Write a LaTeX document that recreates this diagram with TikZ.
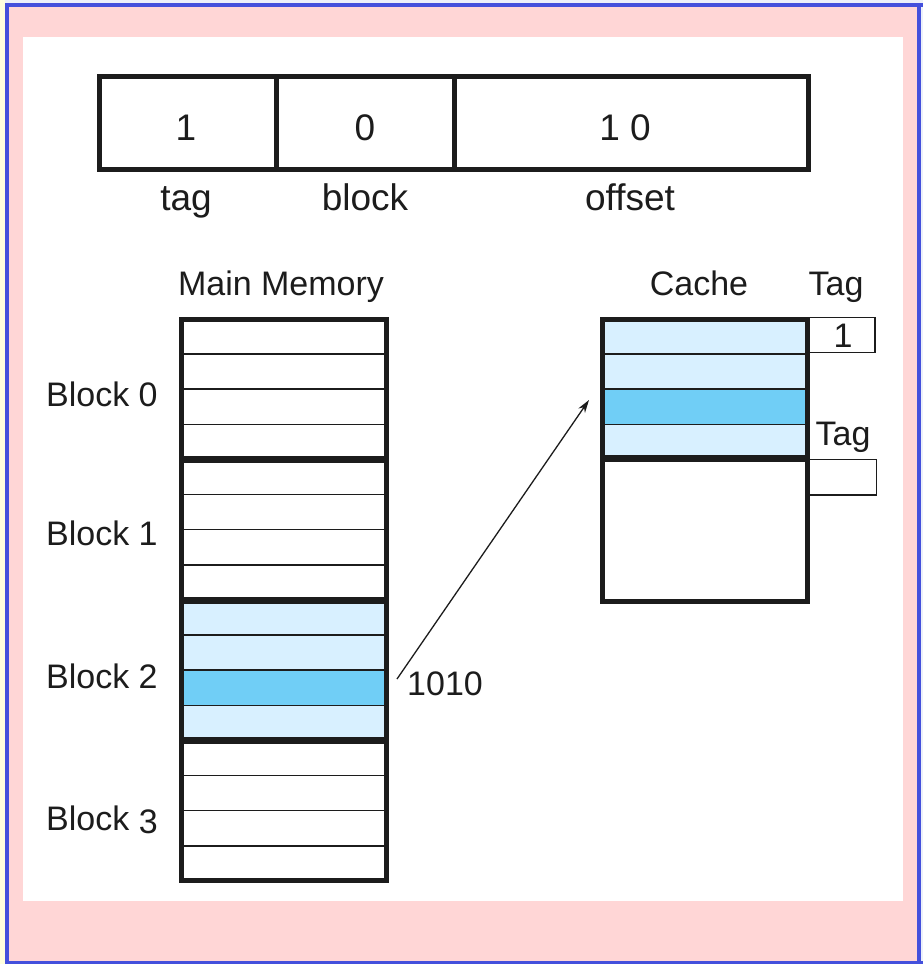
\documentclass[tikz,border=0pt]{standalone}
\usepackage{fontspec}
\setmainfont{Liberation Sans}
\usetikzlibrary{arrows.meta}

\definecolor{edgepale}{RGB}{236,240,250}
\definecolor{edgecream}{RGB}{255,255,222}
\definecolor{framepink}{RGB}{255,214,214}
\definecolor{frameblue}{RGB}{68,80,220}
\definecolor{lightcell}{RGB}{216,240,255}
\definecolor{hotcell}{RGB}{112,206,246}
\definecolor{ink}{RGB}{28,28,28}

\begin{document}
\begin{tikzpicture}[x=1pt,y=-1pt,
  heavy/.style={draw=ink, line width=5pt},
  divider/.style={draw=ink, line width=7pt},
  rowline/.style={draw=ink, line width=1.5pt},
  field/.style={heavy, rectangle, inner sep=0pt, minimum height=93pt},
  bigtext/.style={text=ink, inner sep=0pt, anchor=base, font=\fontsize{37}{42}\selectfont},
  lbl/.style={text=ink, inner sep=0pt, anchor=base, font=\fontsize{34}{40}\selectfont},
  tagbox/.style={draw=ink, line width=1.5pt, rectangle, inner sep=0pt}]

% page frame
\useasboundingbox (0,0) rectangle (923,964);
\fill[edgepale] (0,0) rectangle (923,964);
\fill[edgecream] (0,0) rectangle (5,964);
\fill[framepink] (7,5) rectangle (919,963);
\draw[frameblue, line width=4pt] (7,5) -- (7,964);
\draw[frameblue, line width=4pt] (5,5) -- (923,5);
\draw[frameblue, line width=4pt] (919,5) -- (919,964);
\draw[frameblue, line width=3pt] (5,962.5) -- (923,962.5);
\fill[white] (23,37) rectangle (903,901);

% address fields
\node[field, minimum width=177pt] (ftag) at (187.5,123) {};
\node[field, minimum width=178pt] (fblock) at (365,123) {};
\node[field, minimum width=354pt] (foffset) at (631,123) {};
\node[bigtext] (vtag) at (186,140) {1};
\node[bigtext] (vblock) at (365,140) {0};
\node[bigtext] (voffset) at (625,140) {1 0};
\node[bigtext] (ltag) at (186,210) {tag};
\node[bigtext] (lblock) at (365,210) {block};
\node[bigtext] (loffset) at (630,210) {offset};

% main memory column
\fill[lightcell] (181,600) rectangle (386,740.5);
\fill[hotcell] (181,670.3) rectangle (386,705.4);
\foreach \b in {319,459.5,600,740.5}{
  \foreach \k in {1,2,3}{
    \draw[rowline] (181,\b+\k*35.1) -- (386,\b+\k*35.1);
  }
}
\foreach \b in {459.5,600,740.5}{
  \draw[divider] (181,\b) -- (386,\b);
}
\node[heavy, rectangle, inner sep=0pt, minimum width=205pt, minimum height=561.5pt] (mem) at (283.5,599.75) {};
\node[lbl] (memtitle) at (281,295) {Main Memory};
\node[lbl, anchor=base west] (b0) at (46,406.5) {Block 0};
\node[lbl, anchor=base west] (b1) at (46,545.5) {Block 1};
\node[lbl, anchor=base west] (b2) at (46,688) {Block 2};
\node[lbl, anchor=base west] (b3) at (46,830) {Block \raisebox{-3pt}{3}};

% cache
\node[tagbox, minimum width=67pt, minimum height=35pt] (tag0) at (841.5,335) {};
\node[tagbox, minimum width=68.5pt, minimum height=35.5pt] (tag1) at (842.25,477.25) {};
\fill[lightcell] (602,319) rectangle (807.5,458.5);
\fill[hotcell] (602,389.2) rectangle (807.5,424.3);
\foreach \k in {1,2,3}{
  \draw[rowline] (602,319+\k*35.1) -- (807.5,319+\k*35.1);
}
\draw[divider] (602,458.5) -- (807.5,458.5);
\node[heavy, rectangle, inner sep=0pt, minimum width=205.5pt, minimum height=282pt] (cache) at (704.75,460) {};
\node[lbl] (cachetitle) at (699,295) {Cache};
\node[lbl] (tagtitle0) at (836,295) {Tag};
\node[lbl] (tagtitle1) at (843,445.5) {Tag};
\node[lbl] (tagval0) at (843,347) {1};

% address and its mapping into the cache
\node[lbl, anchor=base west] (addr) at (407,695) {1010};
\coordinate (src) at (397,679);
\coordinate (dst) at (589,400);
\draw[ink, line width=1.3pt, -{Stealth[length=13pt,width=8pt]}] (src) -- (dst);

\end{tikzpicture}
\end{document}
